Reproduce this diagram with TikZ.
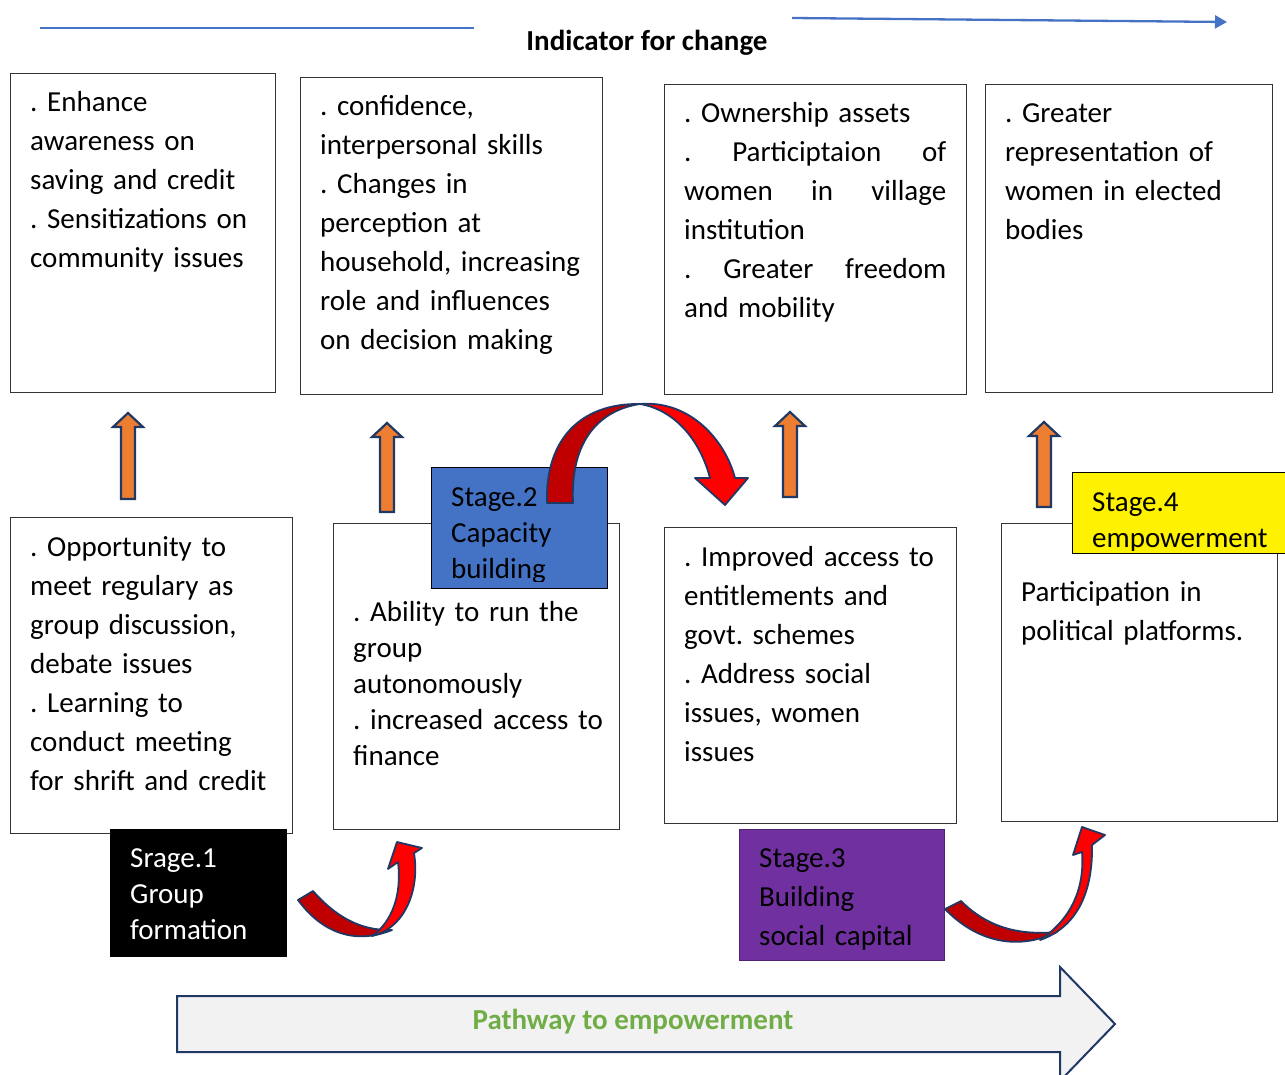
\documentclass[tikz,border=0pt]{standalone}
\usepackage{fontspec}
\setmainfont{Carlito}
\usetikzlibrary{arrows.meta}
\definecolor{stageblue}{HTML}{4472C4}
\definecolor{stagepurple}{HTML}{7030A0}
\definecolor{linkblue}{HTML}{4472C4}
\definecolor{arroworange}{HTML}{ED7D31}
\definecolor{edgenavy}{HTML}{203864}
\definecolor{curldark}{HTML}{C00000}
\definecolor{curlred}{HTML}{FF0000}
\definecolor{pathgreen}{HTML}{70AD47}
\frenchspacing
\begin{document}
\begin{tikzpicture}[x=1pt, y=-1pt,
    boxstyle/.style={draw=black!80, line width=1.3pt, anchor=north west, inner sep=0pt},
    stagestyle/.style={draw=black, line width=1pt, anchor=north west, inner sep=0pt},
    textstyle/.style={anchor=base west, inner sep=0pt, align=left, text width=#1,
        font=\fontsize{29}{39}\selectfont},
    textstyle/.default=300pt,
    uparrowstyle/.style={draw=edgenavy, line width=2.2pt, fill=arroworange, line join=miter},
    curlstyle/.style={draw=edgenavy, line width=1.8pt, line join=round}]
    \useasboundingbox (0,0) rectangle (1285,1075);

    % Indicator for change
    \coordinate (l1) at (40,28);
    \coordinate (l2) at (474,28);
    \coordinate (r1) at (792,18);
    \coordinate (r2) at (1227,22);
    \draw[linkblue, line width=1.5pt] (l1) -- (l2);
    \draw[linkblue, line width=2.3pt, -{Triangle[length=12pt, width=13pt]}] (r1) -- (r2);
    \node[anchor=base, inner sep=0pt, font=\fontsize{29}{39}\selectfont\bfseries] (head) at (647,51) {Indicator for change};

    % Indicator boxes
    \node[boxstyle, minimum width=265, minimum height=319] (ind1) at (10,73) {};
    \node[boxstyle, minimum width=302, minimum height=317] (ind2) at (300,77) {};
    \node[boxstyle, minimum width=302, minimum height=310] (ind3) at (664,84) {};
    \node[boxstyle, minimum width=287, minimum height=308] (ind4) at (985,84) {};

    \node[textstyle] (indtext1) at ([shift={(20,39)}]ind1.north west)
        {. Enhance\\awareness on\\saving and credit\\. Sensitizations on\\community issues};
    \node[textstyle] (indtext2) at ([shift={(20,39)}]ind2.north west)
        {. confidence,\\interpersonal skills\\. Changes in\\perception at\\household, increasing\\role and influences\\on decision making};
    \node[textstyle=262pt] (indtext3) at ([shift={(20,39)}]ind3.north west)
        {. Ownership assets\\.\hfill Participtaion\hfill of\\women\hfill in\hfill village\\institution\\.\hfill Greater\hfill freedom\\and mobility};
    \node[textstyle] (indtext4) at ([shift={(20,39)}]ind4.north west)
        {. Greater\\representation of\\women in elected\\bodies};
    %%%

    % Stage boxes
    \node[boxstyle, minimum width=282, minimum height=316] (grp1) at (10,517) {};
    \node[boxstyle, minimum width=286, minimum height=306] (grp2) at (333,523) {};
    \node[boxstyle, minimum width=292, minimum height=296] (grp3) at (664,527) {};
    \node[boxstyle, minimum width=276, minimum height=298] (grp4) at (1001,523) {};

    \node[textstyle] (grptext1) at ([shift={(20,39)}]grp1.north west)
        {. Opportunity to\\meet regulary as\\group discussion,\\debate issues\\. Learning to\\conduct meeting\\for shrift and credit};
    \node[textstyle, font=\fontsize{29}{36}\selectfont] (grptext2) at ([shift={(20,98)}]grp2.north west)
        {. Ability to run the\\group\\autonomously\\. increased access to\\finance};
    \node[textstyle] (grptext3) at ([shift={(20,39)}]grp3.north west)
        {. Improved access to\\entitlements and\\govt. schemes\\. Address social\\issues, women\\issues};
    \node[textstyle] (grptext4) at ([shift={(20,78)}]grp4.north west)
        {Participation in\\political platforms.};
    %%%

    % Stage labels
    \node[stagestyle, fill=black, minimum width=176, minimum height=127] (stage1) at (110,829) {};
    \node[textstyle, text=white, font=\fontsize{29}{36}\selectfont] (stagetext1) at ([shift={(20,38)}]stage1.north west)
        {Srage.1\\Group\\formation};

    \node[stagestyle, fill=stageblue, minimum width=176, minimum height=121] (stage2) at (431,467) {};
    \begin{scope}
        \clip (stage2.north west) rectangle ([yshift=8pt]stage2.south east);
        \node[textstyle, font=\fontsize{29}{36}\selectfont] (stagetext2) at ([shift={(20,39)}]stage2.north west)
            {Stage.2\\Capacity\\building};
    \end{scope}

    \node[stagestyle, draw=stagepurple!70!black, fill=stagepurple, minimum width=205, minimum height=131] (stage3) at (739,829) {};
    \node[textstyle] (stagetext3) at ([shift={(20,38)}]stage3.north west)
        {Stage.3\\Building\\social capital};

    \node[stagestyle, fill=yellow, minimum width=213, minimum height=81] (stage4) at (1072,472) {};
    \begin{scope}
        \clip (stage4.north west) rectangle ([yshift=4pt]stage4.south east);
        \node[textstyle, font=\fontsize{29}{36}\selectfont] (stagetext4) at ([shift={(20,39)}]stage4.north west)
            {Stage.4\\empowerment};
    \end{scope}
    %%%

    % Upward arrows
    \foreach \x/\t/\b in {128/413/499, 387/423/512, 790/412/497, 1044/422/507}{
        \draw[uparrowstyle] (\x-7,\b) -- (\x-7,\t+14) -- (\x-15,\t+14) -- (\x,\t)
            -- (\x+15,\t+14) -- (\x+7,\t+14) -- (\x+7,\b) -- cycle;
    }

    % Curved arrows
    \draw[curlstyle, fill=curldark] (298,900) .. controls (320,930) and (352,946) .. (392,930)
        .. controls (360,931) and (335,916) .. (313,891) -- cycle;
    \draw[curlstyle, fill=curlred] (372,936) .. controls (405,928) and (420,890) .. (414,853)
        -- (422,848) -- (397,842) -- (388,869) -- (398,862)
        .. controls (402,895) and (392,922) .. (372,936) -- cycle;

    \draw[curlstyle, fill=curldark] (547,503) .. controls (545,440) and (580,403) .. (640,404)
        .. controls (600,410) and (570,440) .. (573,503) -- cycle;
    \draw[curlstyle, fill=curlred] (640,404) .. controls (690,400) and (725,440) .. (735,478)
        -- (748,478) -- (725,505) -- (695,478) -- (710,478)
        .. controls (700,440) and (675,410) .. (640,404) -- cycle;

    \draw[curlstyle, fill=curldark] (945,909) .. controls (975,940) and (1015,952) .. (1057,932)
        .. controls (1015,936) and (985,925) .. (961,901) -- cycle;
    \draw[curlstyle, fill=curlred] (1040,940) .. controls (1075,928) and (1093,895) .. (1092,845)
        -- (1105,835) -- (1082,827) -- (1073,855) -- (1082,852)
        .. controls (1085,890) and (1070,920) .. (1040,940) -- cycle;
    %%%

    % Pathway to empowerment
    \draw[draw=edgenavy, line width=2pt, fill=gray!10] (177,996) -- (1060,996) -- (1060,967)
        -- (1115,1024) -- (1060,1081) -- (1060,1052) -- (177,1052) -- cycle;
    \node[anchor=base, inner sep=0pt, text=pathgreen, font=\fontsize{29}{39}\selectfont\bfseries] (path) at (633,1029) {Pathway to empowerment};
\end{tikzpicture}
\end{document}
